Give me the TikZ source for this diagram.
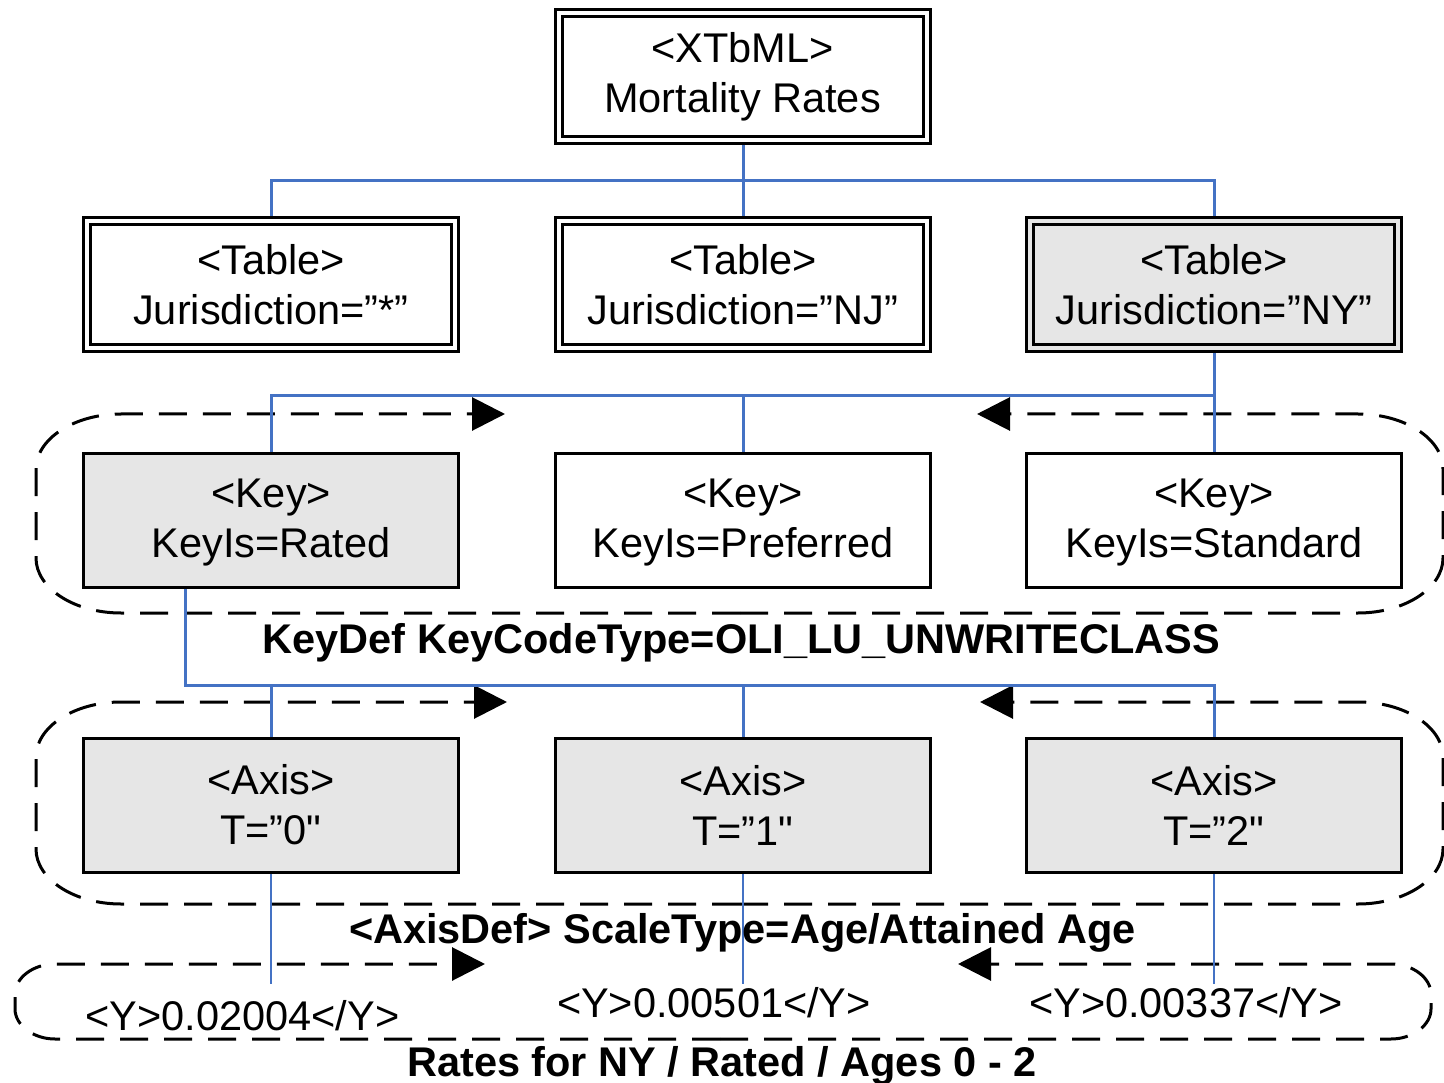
\documentclass[tikz,border=0pt]{standalone}
\usepackage{fontspec}
\setmainfont{Liberation Sans}[Ligatures=TeXOff]
\usetikzlibrary{arrows.meta,backgrounds}
\definecolor{connblue}{HTML}{4472C4}
\definecolor{boxgray}{HTML}{E6E6E6}
\begin{document}
\begin{tikzpicture}[x=1pt,y=-1pt,
  txt/.style={font=\fontsize{41.5}{50}\selectfont, align=center},
  sbox/.style={txt, draw, line width=3pt, minimum width=375pt, minimum height=134pt, inner sep=0pt},
  dbox/.style={txt, draw, line width=3pt, double, double distance=4pt, minimum width=368pt, minimum height=127pt, inner sep=0pt},
  shaded/.style={fill=boxgray},
  link/.style={draw=connblue, line width=3pt},
  thinlink/.style={draw=connblue, line width=2pt},
  grp/.style={draw=black, line width=3pt, dash pattern=on 28pt off 16pt},
  tipend/.style={-{Triangle[length=33pt,width=33pt]}},
  lbl/.style={font=\bfseries\fontsize{41.5}{50}\selectfont, anchor=base, inner sep=0pt}
]
\useasboundingbox (0,0) rectangle (1444,1083);

% nodes
\node[dbox] (root) at (742.5,77) {<XTbML>\\Mortality Rates};
\node[dbox] (tA) at (271,284.5) {<Table>\\Jurisdiction=”*”};
\node[dbox] (tB) at (743,284.5) {<Table>\\Jurisdiction=”NJ”};
\node[dbox, shaded, double=boxgray] (tC) at (1214,284.5) {<Table>\\Jurisdiction=”NY”};

\node[sbox, shaded, text depth=4pt] (kA) at (271,520.5) {<Key>\\KeyIs=Rated};
\node[sbox, text depth=4pt] (kB) at (743,520.5) {<Key>\\KeyIs=Preferred};
\node[sbox, text depth=4pt] (kC) at (1214,520.5) {<Key>\\KeyIs=Standard};

\node[sbox, shaded] (aA) at (271,805) {<Axis>\\T=”0"};
\node[sbox, shaded] (aB) at (743,805) {<Axis>\\T=”1"};
\node[sbox, shaded] (aC) at (1214,805) {<Axis>\\T=”2"};

\node[lbl] (kdef) at (741.5,653) {KeyDef KeyCodeType=OLI\_LU\_UNWRITECLASS};
\node[lbl] (adef) at (742.5,943) {<AxisDef> ScaleType=Age/Attained Age};
\node[lbl] (rates) at (722,1076) {Rates for NY / Rated / Ages 0 - 2};

\node[txt, anchor=base, inner sep=0pt] (y0) at (242.5,1030) {<Y>0.02004</Y>};
\node[txt, anchor=base, inner sep=0pt] (y1) at (714,1017) {<Y>0.00501</Y>};
\node[txt, anchor=base, inner sep=0pt] (y2) at (1186,1017) {<Y>0.00337</Y>};

\begin{scope}[on background layer]
% dashed groups
\draw[grp, tipend] (740,613) -- (121,613) .. controls (74,613) and (36,588) .. (36,558) -- (36,469) .. controls (36,439) and (74,414) .. (121,414) -- (505,414);
\draw[grp, tipend] (740,613) -- (1358,613) .. controls (1405,613) and (1443,588) .. (1443,558) -- (1443,469) .. controls (1443,439) and (1405,414) .. (1358,414) -- (977,414);

\draw[grp, tipend] (740,904) -- (121,904) .. controls (74,904) and (36,879) .. (36,849) -- (36,757) .. controls (36,727) and (74,702) .. (121,702) -- (507,702);
\draw[grp, tipend] (740,904) -- (1358,904) .. controls (1405,904) and (1443,879) .. (1443,849) -- (1443,757) .. controls (1443,727) and (1405,702) .. (1358,702) -- (980,702);

\draw[grp, tipend] (720,1039) -- (55,1039) .. controls (33,1039) and (15,1025) .. (15,1009) -- (15,994) .. controls (15,978) and (33,964) .. (55,964) -- (485,964);
\draw[grp, tipend] (720,1039) -- (1391,1039) .. controls (1413,1039) and (1431,1025) .. (1431,1009) -- (1431,994) .. controls (1431,978) and (1413,964) .. (1391,964) -- (958,964);

% connectors
\coordinate (r1) at (743,181);
\coordinate (r2) at (743,396);
\coordinate (r3) at (743,685);
\draw[link] (root.south -| tB.north) -- (tB.north);
\draw[link] (tA.north) -- (tA.north |- r1) -- (tC.north |- r1) -- (tC.north);
\draw[link] (tC.south) -- (kC.north);
\draw[link] (kA.north) -- (kA.north |- r2) -- (kC.north |- r2);
\draw[link] (kB.north |- r2) -- (kB.north);
\draw[link] ([xshift=-86pt]kA.south) -- ([xshift=-86pt]kA.south |- r3) -- (aC.north |- r3) -- (aC.north);
\draw[link] (aA.north |- r3) -- (aA.north);
\draw[link] (aB.north |- r3) -- (aB.north);
\draw[thinlink] (aA.south) -- ++(0,110);
\draw[thinlink] (aB.south) -- ++(0,110);
\draw[thinlink] (aC.south) -- ++(0,110);
\end{scope}
\end{tikzpicture}
\end{document}
